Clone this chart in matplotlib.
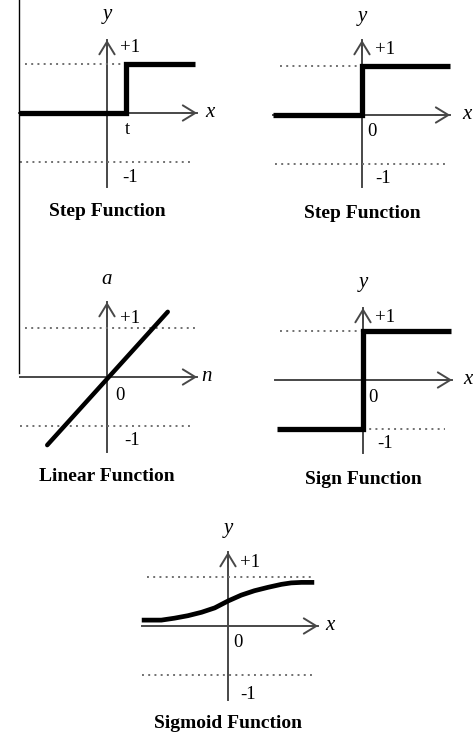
import matplotlib
matplotlib.use("Agg")
from matplotlib import pyplot as plt
from matplotlib.lines import Line2D

W, H = 473, 735
UNIT = 49  # pixels per data unit

# panel data (data units, +1/-1 are the dotted levels)
step1_x = [-1.8, 0.39, 0.39, 1.8]
step1_y = [0, 0, 1, 1]
step2_x = [-1.82, 0, 0, 1.8]
step2_y = [0, 0, 1, 1]
linear_x = [-1.22, 1.24]
linear_y = [-1.39, 1.33]
sign_x = [-1.76, 0, 0, 1.8]
sign_y = [-1, -1, 1, 1]
sigmoid_x = [-1.76, -1.36, -1.09, -0.82, -0.54, -0.27, 0, 0.27, 0.54, 0.82, 1.09, 1.29, 1.50, 1.76]
sigmoid_y = [0.12, 0.12, 0.16, 0.21, 0.28, 0.37, 0.51, 0.63, 0.72, 0.79, 0.85, 0.88, 0.89, 0.89]

titles = ["Step Function", "Step Function", "Linear Function", "Sign Function", "Sigmoid Function"]
xnames = ["x", "x", "n", "x", "x"]
ynames = ["y", "y", "a", "y", "y"]
origin_labels = ["t", "0", "0", "0", "0"]

AX_C = "#484848"
DOT_C = "#707070"
SERIF = "Liberation Serif"

fig = plt.figure(figsize=(W / 100, H / 100), dpi=100)


def make_axes(ox, oy, span=2.4):
    ax = fig.add_axes([(ox - span * UNIT) / W, 1 - (oy + span * UNIT) / H,
                       2 * span * UNIT / W, 2 * span * UNIT / H])
    ax.set_xlim(-span, span)
    ax.set_ylim(-span, span)
    ax.axis("off")
    return ax


def axes_cross(ax, x0, x1, y0, y1):
    ax.plot([x0, x1], [0, 0], color=AX_C, lw=1.4, zorder=1)
    ax.plot([0, 0], [y0, y1], color=AX_C, lw=1.4, zorder=1)
    arrow = dict(arrowstyle="->,head_length=0.9,head_width=0.55", color=AX_C, lw=1.4,
                 shrinkA=0, shrinkB=0)
    ax.annotate("", xy=(x1, 0), xytext=(x1 - 0.3, 0), arrowprops=arrow)
    ax.annotate("", xy=(0, y1), xytext=(0, y1 - 0.3), arrowprops=arrow)


def dotted(ax, y, x0, x1):
    ax.plot([x0, x1], [y, y], color=DOT_C, lw=1.4, ls=(0, (1, 2.2)), zorder=1)


def labels(ax, i, olab_pos, p1_pos, m1_pos, title_y, xlab_x=2.1):
    ax.text(xlab_x, 0.02, xnames[i], fontsize=15, family=SERIF, style="italic",
            ha="center", va="center")
    ax.text(0, 2.0, ynames[i], fontsize=15, family=SERIF, style="italic",
            ha="center", va="center")
    ax.text(*olab_pos, origin_labels[i], fontsize=13.5, family=SERIF, ha="center", va="center")
    ax.text(*p1_pos, "+1", fontsize=13.5, family=SERIF, ha="center", va="center")
    ax.text(*m1_pos, "-1", fontsize=13.5, family=SERIF, ha="center", va="center")
    ax.text(0, title_y, titles[i], fontsize=14, family=SERIF, weight="bold",
            ha="center", va="center")


thick = dict(color="black", lw=3.8, solid_capstyle="butt", solid_joinstyle="miter", zorder=3)

# step function (t)
ax = make_axes(107, 113)
axes_cross(ax, -1.8, 1.84, -1.51, 1.49)
dotted(ax, 1, -1.67, 0.39)
dotted(ax, -1, -1.78, 1.69)
ax.plot(step1_x, step1_y, **thick)
labels(ax, 0, (0.41, -0.33), (0.47, 1.33), (0.47, -1.31), -2.02)

# step function (0)
ax = make_axes(362, 115)
axes_cross(ax, -1.82, 1.8, -1.47, 1.53)
dotted(ax, 1, -1.67, 0)
dotted(ax, -1, -1.78, 1.69)
ax.plot(step2_x, step2_y, **thick)
labels(ax, 1, (0.2, -0.33), (0.47, 1.33), (0.43, -1.29), -2.0, 2.14)

# linear function
ax = make_axes(107, 377)
axes_cross(ax, -1.78, 1.84, -1.53, 1.53)
dotted(ax, 1, -1.67, 1.8)
dotted(ax, -1, -1.78, 1.69)
ax.plot(linear_x, linear_y, color="black", lw=3.2, solid_capstyle="round", zorder=3)
labels(ax, 2, (0.27, -0.37), (0.47, 1.2), (0.51, -1.29), -2.04, 2.04)

# sign function
ax = make_axes(363, 380)
axes_cross(ax, -1.8, 1.82, -1.49, 1.47)
dotted(ax, 1, -1.69, 0)
dotted(ax, -1, 0, 1.67)
ax.plot(sign_x, sign_y, **thick)
labels(ax, 3, (0.2, -0.35), (0.45, 1.27), (0.45, -1.29), -2.04, 2.14)

# sigmoid function
ax = make_axes(228, 626)
axes_cross(ax, -1.76, 1.84, -1.51, 1.51)
dotted(ax, 1, -1.65, 1.78)
dotted(ax, -1, -1.76, 1.71)
ax.plot(sigmoid_x, sigmoid_y, color="black", lw=3.4, solid_capstyle="butt",
        solid_joinstyle="round", zorder=3)
labels(ax, 4, (0.2, -0.33), (0.45, 1.29), (0.41, -1.39), -2.0, 2.08)

# stray border line on the left
fig.add_artist(Line2D([19 / W, 19 / W], [1, 1 - 373 / H], color="black", lw=1.0))

fig.savefig("out.png", dpi=100, facecolor="white")
